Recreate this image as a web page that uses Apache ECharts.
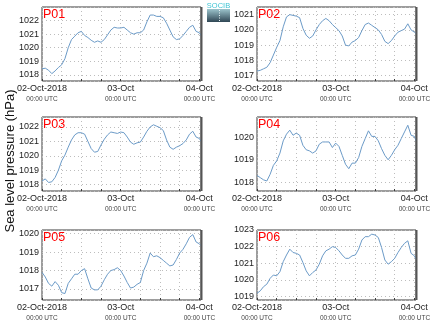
<!DOCTYPE html>
<html>
<head>
<meta charset="utf-8">
<script src="https://cdn.jsdelivr.net/npm/echarts@6/dist/echarts.min.js"></script>
<style>
  html, body { margin: 0; padding: 0; background: #fff; }
  #chart { width: 435px; height: 327px; }
</style>
</head>
<body>
<div id="chart"></div>
<script>
// Hours since 02-Oct-2018 00:00 UTC
const hours = [0, 1, 2, 3, 4, 5, 6, 7, 8, 9, 10, 11, 12, 13, 14, 15, 16, 17, 18, 19, 20,
  21, 22, 23, 24, 25, 26, 27, 28, 29, 30, 31, 32, 33, 34, 35, 36, 37, 38, 39, 40,
  41, 42, 43, 44, 45, 46, 47, 48, 48.5];

const stations = ['P01', 'P02', 'P03', 'P04', 'P05', 'P06'];

// Sea level pressure (hPa) per station
const p01 = [1018.45, 1018.5, 1018.35, 1018.1, 1018.3, 1018.55, 1018.75, 1019.2, 1020.0, 1020.6,
  1020.85, 1021.1, 1021.2, 1020.9, 1020.75, 1020.55, 1020.4, 1020.5, 1020.4, 1020.6,
  1020.95, 1021.3, 1021.5, 1021.45, 1021.45, 1021.5, 1021.3, 1021.1, 1021.0, 1021.1,
  1021.1, 1021.3, 1021.9, 1022.4, 1022.4, 1022.3, 1022.3, 1022.2, 1021.8, 1021.3,
  1020.8, 1020.6, 1020.65, 1020.9, 1021.2, 1021.5, 1021.65, 1021.2, 1021.1, 1020.9];
const p02 = [1017.3, 1017.35, 1017.45, 1017.55, 1017.85, 1018.35, 1018.85, 1019.3, 1020.2, 1020.85,
  1021.0, 1020.95, 1020.9, 1020.8, 1020.1, 1019.65, 1019.45, 1019.6, 1020.0, 1020.35,
  1020.6, 1020.75, 1020.6, 1020.35, 1020.15, 1019.95, 1019.6, 1019.0, 1018.95, 1019.2,
  1019.3, 1019.5, 1019.95, 1020.35, 1020.45, 1020.3, 1020.15, 1020.0, 1019.7, 1019.25,
  1019.1, 1019.3, 1019.6, 1019.85, 1019.95, 1020.05, 1020.4, 1020.0, 1019.85, 1019.75];
const p03 = [1018.25, 1018.4, 1018.15, 1018.2, 1018.5, 1019.0, 1019.65, 1020.05, 1020.6, 1021.1,
  1021.45, 1021.6, 1021.6, 1021.5, 1021.0, 1020.5, 1020.25, 1020.3, 1020.75, 1021.15,
  1021.45, 1021.65, 1021.6, 1021.55, 1021.65, 1021.6, 1021.3, 1020.95, 1020.8, 1020.9,
  1020.95, 1021.3, 1021.7, 1022.0, 1022.15, 1022.05, 1021.95, 1021.75, 1021.1, 1020.6,
  1020.45, 1020.6, 1020.7, 1020.85, 1021.1, 1021.5, 1021.7, 1021.3, 1021.2, 1021.0];
const p04 = [1018.3, 1018.2, 1018.1, 1018.05, 1018.35, 1018.75, 1018.95, 1019.3, 1019.85, 1020.15,
  1020.33, 1020.1, 1020.2, 1020.1, 1019.65, 1019.45, 1019.4, 1019.3, 1019.4, 1019.7,
  1019.8, 1019.8, 1019.8, 1019.55, 1019.75, 1019.6, 1019.2, 1018.8, 1018.6, 1018.85,
  1018.85, 1019.1, 1019.6, 1019.95, 1020.3, 1020.05, 1020.05, 1019.85, 1019.5, 1019.2,
  1019.0, 1019.2, 1019.45, 1019.65, 1019.95, 1020.25, 1020.55, 1020.1, 1020.05, 1019.85];
const p05 = [1017.9, 1017.65, 1017.3, 1017.15, 1017.4, 1017.2, 1016.8, 1016.75, 1017.3, 1017.55,
  1017.8, 1017.8, 1018.0, 1018.1, 1017.55, 1017.05, 1016.95, 1016.95, 1017.15, 1017.5,
  1017.8, 1018.0, 1018.05, 1018.15, 1018.0, 1017.7, 1017.35, 1017.05, 1017.1, 1017.25,
  1017.35, 1018.0, 1018.4, 1018.95, 1018.75, 1018.8, 1018.7, 1018.55, 1018.4, 1018.25,
  1018.3, 1018.6, 1018.95, 1019.15, 1019.45, 1019.8, 1019.95, 1019.55, 1019.45, 1019.35];
const p06 = [1019.2, 1019.35, 1019.6, 1019.75, 1020.1, 1020.3, 1020.25, 1020.5, 1021.1, 1021.5,
  1021.85, 1021.65, 1021.6, 1021.5, 1021.05, 1020.55, 1020.25, 1020.45, 1020.6, 1020.95,
  1021.45, 1021.75, 1021.85, 1022.0, 1021.95, 1021.75, 1021.5, 1021.3, 1021.3, 1021.45,
  1021.5, 1021.85, 1022.4, 1022.6, 1022.6, 1022.75, 1022.7, 1022.55, 1021.95, 1021.2,
  1020.95, 1021.1, 1021.3, 1021.65, 1021.95, 1022.2, 1022.35, 1021.6, 1021.45, 1021.25];

const pressure = [p01, p02, p03, p04, p05, p06];

// y-axis extents per panel
const yLow  = [1017.56, 1016.65, 1017.56, 1017.6, 1016.4, 1018.8];
const yHigh = [1022.99, 1021.5, 1022.69, 1020.92, 1020.2, 1023.0];

// x tick labels (hour -> date text)
const dayTicks = { 0: '02-Oct-2018', 24: '03-Oct', 48: '04-Oct' };

// panel layout
const colLeft = [42, 257];
const rowTop = [7, 117, 230];
const rowHeight = [74, 74, 70];
const panelWidth = 159;
const lineColor = '#6c9bc8';
const frameColor = '#3a3a3a';
const gridLine = { show: true, lineStyle: { color: '#bdbdbd', type: [1, 3], width: 1 } };
const font = 'Liberation Sans, Arial, Helvetica, sans-serif';

const grids = [], xAxes = [], yAxes = [], series = [], titles = [], graphics = [];

stations.forEach((name, i) => {
  const col = i % 2, row = Math.floor(i / 2);
  const left = colLeft[col], top = rowTop[row], h = rowHeight[row];
  grids.push({
    left: left, top: top, width: panelWidth, height: h,
    show: true, borderColor: frameColor, borderWidth: 1, backgroundColor: 'transparent'
  });
  xAxes.push({
    type: 'value', gridIndex: i, min: 0, max: 48.5, interval: 6,
    axisLine: { show: false },
    axisTick: { show: true, inside: true, length: 2, lineStyle: { color: frameColor } },
    splitLine: gridLine,
    axisLabel: {
      interval: 0, margin: 3, showMinLabel: true, showMaxLabel: true,
      formatter: v => dayTicks[v] ? '{a|' + dayTicks[v] + '}\n{b|00:00 UTC}' : '',
      rich: {
        a: { fontSize: 9, color: '#222', fontFamily: font, lineHeight: 10, align: 'center' },
        b: { fontSize: 6.5, color: '#444', fontFamily: font, lineHeight: 10, align: 'center' }
      }
    }
  });
  yAxes.push({
    type: 'value', gridIndex: i, min: yLow[i], max: yHigh[i],
    minInterval: 1, maxInterval: 1,
    axisLine: { show: false },
    axisTick: { show: false },
    splitLine: gridLine,
    axisLabel: {
      margin: 3, fontSize: 9, color: '#222', fontFamily: font,
      formatter: v => Math.abs(v - Math.round(v)) < 1e-6 ? String(Math.round(v)) : ''
    }
  });
  series.push({
    type: 'line', xAxisIndex: i, yAxisIndex: i,
    data: hours.map((t, k) => [t, pressure[i][k]]),
    showSymbol: false, symbol: 'none', smooth: false,
    lineStyle: { color: lineColor, width: 1 },
    silent: true, animation: false
  });
  titles.push({
    text: name, left: left + 1, top: top + 1, padding: 0,
    textStyle: { color: '#ff0000', fontSize: 12.5, fontWeight: 'normal', fontFamily: font }
  });
  // heavier right edge of each frame
  graphics.push({
    type: 'line', z: 10,
    shape: { x1: left + panelWidth + 0.5, y1: top, x2: left + panelWidth + 0.5, y2: top + h },
    style: { stroke: '#555', lineWidth: 2 }
  });
});

// shared y-axis title
graphics.push({
  type: 'text', x: 10, y: 161, rotation: Math.PI / 2,
  style: { text: 'Sea level pressure (hPa)', font: '13px ' + font, fill: '#111',
           textAlign: 'center', textVerticalAlign: 'middle' }
});

// SOCIB logo
graphics.push({
  type: 'text', x: 218.5, y: 5.5,
  style: { text: 'SOCIB', font: '7.5px ' + font, fill: '#3fc4d4', textAlign: 'center', textVerticalAlign: 'middle' }
});
graphics.push({
  type: 'rect', shape: { x: 207, y: 9, width: 23, height: 13 },
  style: {
    fill: new echarts.graphic.LinearGradient(0, 0, 0, 1, [
      { offset: 0, color: '#9cc4cc' }, { offset: 1, color: '#2f4654' }
    ])
  }
});
graphics.push({
  type: 'line', shape: { x1: 219.5, y1: 10, x2: 219.5, y2: 21 },
  style: { stroke: '#e8f4f6', lineWidth: 1, lineDash: [1, 1.5] }
});

const chart = echarts.init(document.getElementById('chart'), null, { renderer: 'canvas' });
chart.setOption({
  animation: false,
  backgroundColor: '#fff',
  title: titles,
  grid: grids,
  xAxis: xAxes,
  yAxis: yAxes,
  series: series,
  graphic: graphics
});
</script>
</body>
</html>
